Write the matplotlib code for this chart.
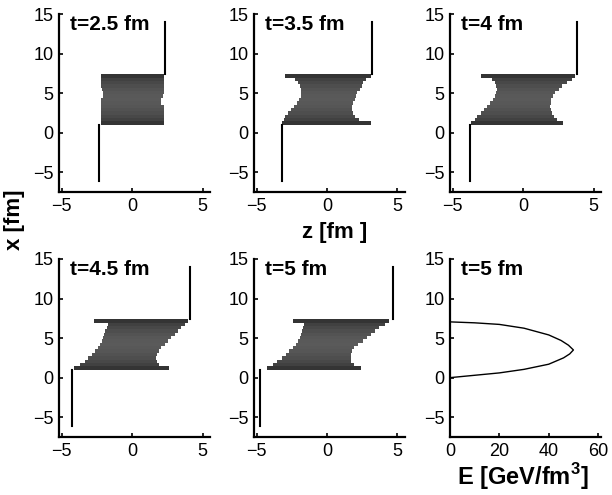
import matplotlib
matplotlib.use("Agg")
import matplotlib.pyplot as plt

plt.rcParams['font.family'] = ['Liberation Sans', 'DejaVu Sans']
plt.rcParams['mathtext.fontset'] = 'custom'
plt.rcParams['mathtext.rm'] = 'Liberation Sans:bold'

# row edges along x [fm] (row 0 = bottom bar, row 14 = top bar)
x_edges = [1.0, 1.43, 1.85, 2.28, 2.71, 3.13, 3.56, 3.99, 4.41, 4.84,
           5.27, 5.69, 6.12, 6.55, 6.97, 7.4]

times = ["t=2.5 fm", "t=3.5 fm", "t=4 fm", "t=4.5 fm", "t=5 fm"]

# left / right z boundary [fm] of the matter region, one value per row
z_left = [
    [-2.25, -2.25, -2.25, -2.25, -2.25, -2.25, -2.25, -2.25, -2.1, -2.1,
     -2.15, -2.25, -2.25, -2.25, -2.25],
    [-3.2, -3.1, -3.0, -2.75, -2.55, -2.35, -2.15, -1.98, -1.88, -1.85,
     -1.88, -1.95, -2.05, -2.27, -3.0],
    [-3.7, -3.45, -3.25, -3.0, -2.75, -2.55, -2.35, -2.15, -2.0, -1.9,
     -1.88, -1.9, -2.0, -2.2, -2.99],
    [-4.12, -3.71, -3.35, -3.12, -2.88, -2.64, -2.44, -2.27, -2.16, -2.1,
     -2.0, -1.92, -1.8, -1.72, -2.68],
    [-4.3, -3.88, -3.55, -3.24, -2.92, -2.68, -2.44, -2.2, -2.04, -1.92,
     -1.87, -1.8, -1.72, -1.68, -2.4],
]
z_right = [
    [2.25, 2.25, 2.25, 2.25, 2.25, 2.25, 2.08, 2.08, 2.2, 2.25,
     2.25, 2.25, 2.25, 2.25, 2.25],
    [3.1, 2.25, 2.0, 1.85, 1.8, 1.8, 1.85, 1.95, 2.05, 2.15,
     2.3, 2.45, 2.55, 2.75, 3.1],
    [2.85, 2.4, 2.2, 2.05, 1.95, 1.92, 1.95, 1.97, 2.1, 2.28,
     2.52, 2.77, 3.13, 3.5, 3.7],
    [2.64, 1.9, 1.77, 1.7, 1.75, 1.9, 2.06, 2.3, 2.54, 2.78,
     3.03, 3.26, 3.5, 3.74, 3.96],
    [2.4, 1.92, 1.73, 1.68, 1.68, 1.75, 1.92, 2.21, 2.52, 2.83,
     3.12, 3.41, 3.72, 4.08, 4.37],
]

# thin lines below / above the matter region
z_left_line = [-2.35, -3.2, -3.8, -4.25, -4.8]
z_right_line = [2.3, 3.2, 3.8, 4.1, 4.65]
x_low_end = -6.1
x_high_end = 13.95

# energy density profile at t=5 fm
E_prof = [0, 10, 20, 30, 40, 45, 48, 50, 48.5, 46, 40, 30, 20, 10, 0]
x_prof = [7.05, 6.93, 6.73, 6.25, 5.4, 4.7, 4.1, 3.5, 3.0, 2.5, 1.7, 1.05,
          0.6, 0.3, 0.0]

row_grays = ['#343434', '#414141', '#484848', '#4e4e4e', '#525252', '#565656',
             '#585858', '#5a5a5a', '#595959', '#575757', '#535353', '#4e4e4e',
             '#484848', '#414141', '#343434']

fig = plt.figure(figsize=(6.12, 4.95), dpi=100)

lefts = [0.0964, 0.415, 0.7353]
bottoms = [0.6121, 0.1172]
w, h = 0.246, 0.3596


def style(ax):
    for s in ['top', 'right']:
        ax.spines[s].set_visible(False)
    for s in ['left', 'bottom']:
        ax.spines[s].set_linewidth(1.6)
    ax.tick_params(direction='in', length=3, width=1.2, labelsize=13, pad=4)
    ax.set_ylim(-7.5, 15)
    ax.set_yticks([-5, 0, 5, 10, 15])


for i in range(5):
    ax = fig.add_axes([lefts[i % 3], bottoms[i // 3], w, h])
    style(ax)
    heights = [x_edges[k + 1] - x_edges[k] for k in range(len(x_edges) - 1)]
    widths = [r - l for l, r in zip(z_left[i], z_right[i])]
    ax.barh(x_edges[:-1], widths, height=heights, left=z_left[i],
            align='edge', color=row_grays, linewidth=0)
    ax.plot([z_left_line[i], z_left_line[i]], [x_low_end, x_edges[0]],
            color='black', lw=1.5)
    ax.plot([z_right_line[i], z_right_line[i]], [x_edges[-1], x_high_end],
            color='black', lw=1.5)
    ax.set_xlim(-5.2, 5.5)
    ax.set_xticks([-5, 0, 5])
    ax.text(0.075, 0.995, times[i], transform=ax.transAxes, va='top',
            ha='left', fontsize=15, fontweight='bold')

ax = fig.add_axes([lefts[2], bottoms[1], w, h])
style(ax)
ax.plot(E_prof, x_prof, color='black', lw=1.0)
ax.set_xlim(0, 61)
ax.set_xticks([0, 20, 40, 60])
ax.text(0.075, 0.995, "t=5 fm", transform=ax.transAxes, va='top',
        ha='left', fontsize=15, fontweight='bold')

fig.text(0.024, 0.556, "x [fm]", rotation=90, ha='center', va='center',
         fontsize=16, fontweight='bold')
fig.text(0.547, 0.531, "z [fm ]", ha='center', va='center',
         fontsize=16, fontweight='bold')
fig.text(0.855, 0.038, "E [GeV/fm$^{3}$]", ha='center', va='center',
         fontsize=17, fontweight='bold')

fig.savefig("out.png", dpi=100)
